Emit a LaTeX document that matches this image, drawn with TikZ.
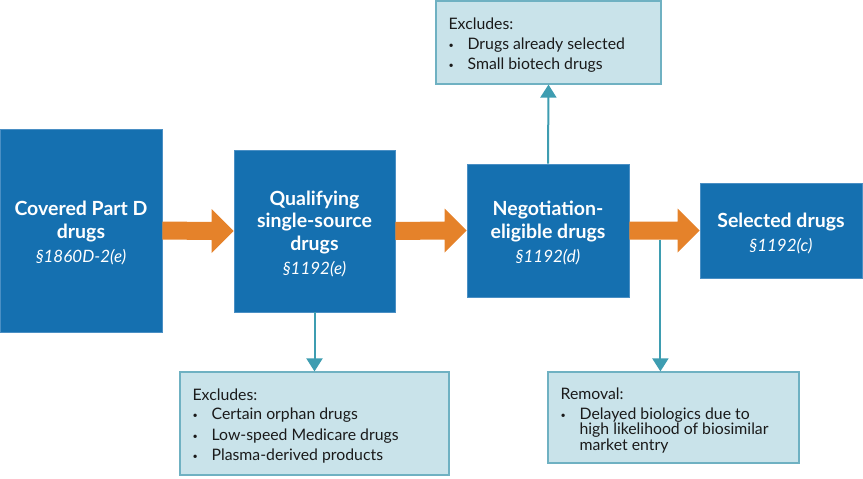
\documentclass[tikz,border=0pt]{standalone}
\usepackage{fontspec}
\setmainfont{Lato}
\usetikzlibrary{arrows.meta,calc}
\definecolor{mainblue}{HTML}{1570B0}
\definecolor{mainedge}{HTML}{4A8FC4}
\definecolor{orng}{HTML}{E5822A}
\definecolor{lightfill}{HTML}{C9E3EA}
\definecolor{lightedge}{HTML}{6FB1C2}
\definecolor{tealline}{HTML}{3E9DB1}
\definecolor{txt}{HTML}{1A1A1A}
\tikzset{
  bluebox/.style={fill=mainblue, draw=mainedge, line width=0.8pt, inner sep=0pt},
  bluetext/.style={text=white, align=center, inner sep=0pt, font=\fontsize{19.5}{22.5}\selectfont\bfseries},
  notebox/.style={fill=lightfill, draw=lightedge, line width=1.2pt, inner sep=0pt},
  notetext/.style={anchor=north west, inner sep=0pt, align=left, text=txt, font=\fontsize{15.8}{15.5}\selectfont},
  tealarrow/.style={draw=tealline, line width=2pt, -{Triangle[width=16pt,length=13pt]}},
  orangearrow/.style={fill=orng}
}
\newcommand{\secref}[1]{{\fontsize{17}{18}\selectfont\mdseries\itshape #1}}
\newcommand{\bl}{\makebox[19pt][l]{\raisebox{1pt}{\fontsize{9}{9}\selectfont\textbullet}}}
\newcommand{\blockarrow}[2]{%
  \fill[orangearrow] ($(#1.east)+(0,-9)$) -- ($(#2.west)+(-22,-9)$) -- ($(#2.west)+(-22,-22)$) -- (#2.west)
   -- ($(#2.west)+(-22,22)$) -- ($(#2.west)+(-22,9)$) -- ($(#1.east)+(0,9)$) -- cycle;}
\begin{document}
\begin{tikzpicture}[x=1pt,y=-1pt]
\useasboundingbox (0,0) rectangle (863,479);
% blue boxes
\node[bluebox, minimum width=162pt, minimum height=203pt] (b1) at (81,230.5) {};
\node[bluebox, minimum width=161pt, minimum height=162pt] (b2) at (314.5,231) {};
\node[bluebox, minimum width=162pt, minimum height=133pt] (b3) at (548,230.5) {};
\node[bluebox, minimum width=162pt, minimum height=95pt] (b4) at (781,230.5) {};
\node[bluetext] (t1) at ($(b1.center)+(0,2.5)$) {Covered Part D\\drugs\\[2pt]\secref{§1860D-2(e)}};
\node[bluetext] (t2) at ($(b2.center)+(0,3)$) {Qualifying\\single-source\\drugs\\[2pt]\secref{§1192(e)}};
\node[bluetext] (t3) at ($(b3.center)+(0,2.5)$) {Negotiation-\\eligible drugs\\[2pt]\secref{§1192(d)}};
\node[bluetext] (t4) at ($(b4.center)+(0,3)$) {Selected drugs\\[2pt]\secref{§1192(c)}};
% note boxes
\node[notebox, minimum width=225pt, minimum height=83pt] (n1) at (548.5,42.5) {};
\node[notebox, minimum width=269pt, minimum height=103pt] (n2) at (314.5,423.5) {};
\node[notebox, minimum width=251pt, minimum height=91pt] (n3) at (673.5,417.5) {};
\node[notetext] (x1) at ($(n1.north west)+(13,17)$) {Excludes:\\[4.5pt]\bl Drugs already selected\\[4.5pt]\bl Small biotech drugs};
\node[notetext] (x2) at ($(n2.north west)+(13,17.5)$) {Excludes:\\[3.5pt]\bl Certain orphan drugs\\[5.5pt]\bl Low-speed Medicare drugs\\[4.5pt]\bl Plasma-derived products};
\node[notetext] (x3) at ($(n3.north west)+(13,16)$) {Removal:\\[4.5pt]\bl Delayed biologics due to\\\hspace*{19pt}high likelihood of biosimilar\\\hspace*{19pt}market entry};
% orange block arrows
\blockarrow{b1}{b2}
\blockarrow{b2}{b3}
\blockarrow{b3}{b4}
% teal connectors
\draw[tealarrow] (b3.north) -- (n1.south);
\draw[tealarrow] (b2.south) -- (n2.north);
\coordinate (c3) at ($(b3.east)+(31,9)$);
\draw[tealarrow] (c3) -- (c3 |- n3.north);
\end{tikzpicture}
\end{document}
